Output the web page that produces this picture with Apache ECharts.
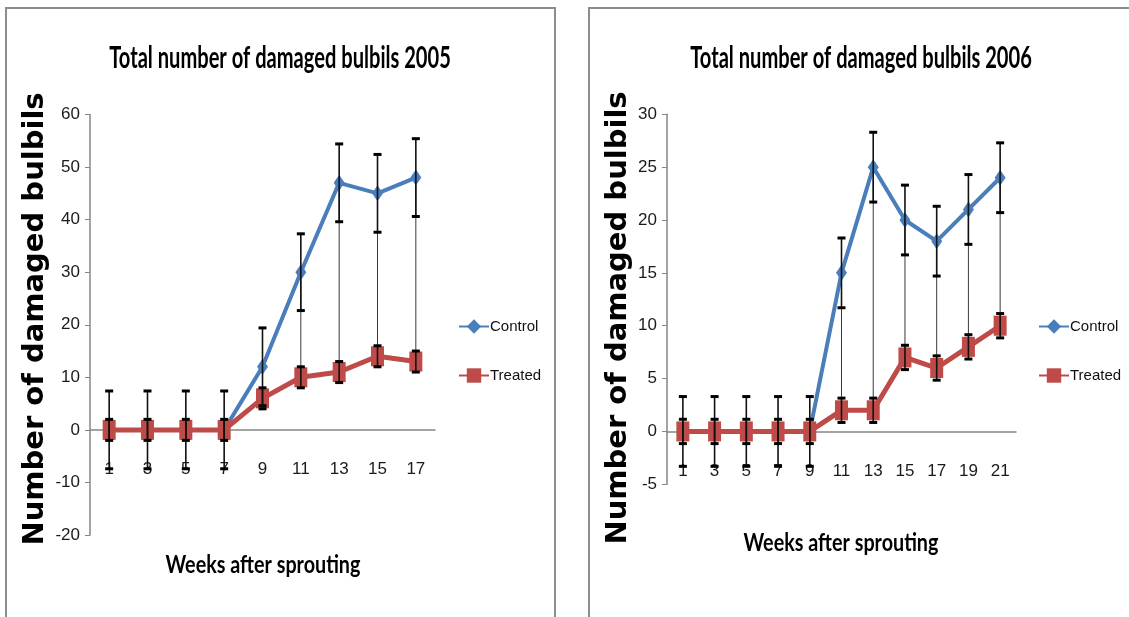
<!DOCTYPE html>
<html>
<head>
<meta charset="utf-8">
<script src="https://cdn.jsdelivr.net/npm/echarts@6/dist/echarts.min.js"></script>
<style>
  html, body { margin: 0; padding: 0; background: #fff; }
  #chart { width: 1129px; height: 617px; }
</style>
</head>
<body>
<div id="chart"></div>
<script>
// 2005 panel
const weeks2005 = ['1', '3', '5', '7', '9', '11', '13', '15', '17']
const control2005 = [0, 0, 0, 0, 12, 30, 47, 45, 48]
const treated2005 = [0, 0, 0, 0, 6, 10, 11, 14, 13]
const controlErr2005 = [7.4, 7.4, 7.4, 7.4, 7.4, 7.3, 7.4, 7.4, 7.4]
const treatedErr2005 = [2, 2, 2, 2, 2, 2, 2, 2, 2]
const yAxis2005 = { min: -20, max: 60, step: 10 }

// 2006 panel
const weeks2006 = ['1', '3', '5', '7', '9', '11', '13', '15', '17', '19', '21']
const control2006 = [0, 0, 0, 0, 0, 15, 25, 20, 18, 21, 24]
const treated2006 = [0, 0, 0, 0, 0, 2, 2, 7, 6, 8, 10]
const controlErr2006 = [3.3, 3.3, 3.3, 3.3, 3.3, 3.3, 3.3, 3.3, 3.3, 3.3, 3.3]
const treatedErr2006 = [1.15, 1.15, 1.15, 1.15, 1.15, 1.15, 1.15, 1.15, 1.15, 1.15, 1.15]
const yAxis2006 = { min: -5, max: 30, step: 5 }

const titles = ['Total number of damaged bulbils 2005', 'Total number of damaged bulbils 2006']
const yName = 'Number of damaged bulbils'
const xName = 'Weeks after sprouting'

const BLUE = '#4A7EBB'
const RED = '#BE4B48'
const AXIS = '#868686'
const TICKFONT = '"Liberation Sans", Arial, sans-serif'

let grids = [
  { left: 90, top: 114.5, width: 345, height: 420.5 },
  { left: 667, top: 114.3, width: 349, height: 370 }
]

function errorBars (params, api) {
  let x = api.value(0)
  let v = api.value(1)
  let e = api.value(2)
  let top = api.coord([x, v + e])
  let bot = api.coord([x, v - e])
  let cap = 4
  return {
    type: 'group',
    children: [
      { type: 'line', shape: { x1: top[0], y1: top[1], x2: bot[0], y2: bot[1] }, style: { stroke: '#111', lineWidth: 1.6 } },
      { type: 'line', shape: { x1: top[0] - cap, y1: top[1], x2: top[0] + cap, y2: top[1] }, style: { stroke: '#000', lineWidth: 3 } },
      { type: 'line', shape: { x1: bot[0] - cap, y1: bot[1], x2: bot[0] + cap, y2: bot[1] }, style: { stroke: '#000', lineWidth: 3 } }
    ]
  }
}

function highLow (params, api) {
  let x = api.value(0)
  let a = api.coord([x, api.value(1)])
  let b = api.coord([x, api.value(2)])
  return { type: 'line', shape: { x1: a[0], y1: a[1], x2: b[0], y2: b[1] }, style: { stroke: '#3a3a3a', lineWidth: 1 } }
}

function panelSeries (idx, control, treated, cErr, tErr) {
  return [
    {
      type: 'custom', xAxisIndex: idx, yAxisIndex: idx, z: 1, silent: true,
      renderItem: highLow,
      data: control.map((v, i) => [i, v, treated[i]])
    },
    {
      name: 'Control', type: 'line', xAxisIndex: idx, yAxisIndex: idx, z: 3,
      data: control, symbol: 'diamond', symbolSize: [11, 16],
      lineStyle: { color: BLUE, width: 4 }, itemStyle: { color: BLUE }
    },
    {
      name: 'Treated', type: 'line', xAxisIndex: idx, yAxisIndex: idx, z: 4,
      data: treated, symbol: 'rect', symbolSize: [13, 20],
      lineStyle: { color: RED, width: 5 }, itemStyle: { color: RED }
    },
    {
      type: 'custom', xAxisIndex: idx, yAxisIndex: idx, z: 6, silent: true,
      renderItem: errorBars,
      data: control.map((v, i) => [i, v, cErr[i]])
    },
    {
      type: 'custom', xAxisIndex: idx, yAxisIndex: idx, z: 6, silent: true,
      renderItem: errorBars,
      data: treated.map((v, i) => [i, v, tErr[i]])
    }
  ]
}

// category axis sits on the y = 0 line, labels follow it
function xAxisFor (idx, cats, cfg) {
  let lift = grids[idx].height * (0 - cfg.min) / (cfg.max - cfg.min)
  return {
    type: 'category', gridIndex: idx, data: cats, offset: -lift,
    axisLine: { onZero: false, lineStyle: { color: AXIS, width: 1.5 } },
    axisTick: { show: false },
    axisLabel: { color: '#1a1a1a', fontFamily: TICKFONT, fontSize: 17, margin: 31 }
  }
}

function yAxisFor (idx, cfg) {
  return {
    type: 'value', gridIndex: idx, min: cfg.min, max: cfg.max, interval: cfg.step,
    axisLine: { show: true, lineStyle: { color: AXIS, width: 1.5 } },
    axisTick: { show: true, length: 5, lineStyle: { color: AXIS } },
    axisLabel: { color: '#1a1a1a', fontFamily: TICKFONT, fontSize: 17, margin: 10 },
    splitLine: { show: false }
  }
}

function legendAt (left) {
  return {
    orient: 'vertical', left: left, top: 319, itemGap: 34, padding: 0,
    itemWidth: 30, itemHeight: 18,
    data: ['Control', 'Treated'],
    textStyle: { fontFamily: TICKFONT, fontSize: 15, color: '#111', padding: [0, 0, 0, -4] }
  }
}

function label (text, x, y, size, scaleX) {
  return {
    type: 'text', x: x, y: y, scaleX: scaleX, silent: true,
    style: {
      text: text, fill: '#000', fontFamily: 'Lato, "Open Sans", sans-serif',
      fontSize: size, fontWeight: 'bold', textAlign: 'center', textVerticalAlign: 'middle'
    }
  }
}

function yLabel (x, y) {
  return {
    type: 'text', x: x, y: y, rotation: Math.PI / 2, silent: true,
    style: {
      text: yName, fill: '#000', fontFamily: '"DejaVu Sans", sans-serif',
      fontSize: 29, fontWeight: 'bold', textAlign: 'center', textVerticalAlign: 'middle'
    }
  }
}

let options = {
  animation: false,
  backgroundColor: '#fff',
  grid: grids,
  xAxis: [xAxisFor(0, weeks2005, yAxis2005), xAxisFor(1, weeks2006, yAxis2006)],
  yAxis: [yAxisFor(0, yAxis2005), yAxisFor(1, yAxis2006)],
  legend: [legendAt(458), legendAt(1038)],
  graphic: [
    { type: 'rect', shape: { x: 6, y: 8, width: 549, height: 640 }, style: { fill: 'none', stroke: '#8c8c8c', lineWidth: 2 }, silent: true },
    { type: 'rect', shape: { x: 589, y: 8, width: 560, height: 640 }, style: { fill: 'none', stroke: '#8c8c8c', lineWidth: 2 }, silent: true },
    label(titles[0], 280, 58, 30, 0.67),
    label(titles[1], 861, 58, 30, 0.67),
    label(xName, 263, 565, 25, 0.79),
    label(xName, 841, 543, 25, 0.79),
    yLabel(35, 319),
    yLabel(618, 318)
  ],
  series: panelSeries(0, control2005, treated2005, controlErr2005, treatedErr2005)
    .concat(panelSeries(1, control2006, treated2006, controlErr2006, treatedErr2006))
}

let myChart = echarts.init(document.getElementById('chart'))
myChart.setOption(options)
</script>
</body>
</html>
